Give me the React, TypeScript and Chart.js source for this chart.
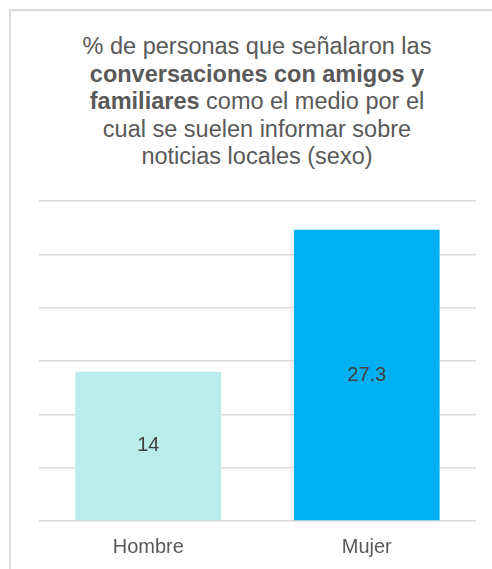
import React, { useEffect, useRef } from "react";
import { Chart, registerables } from "chart.js";

Chart.register(...registerables);

const categories: string[] = ["Hombre", "Mujer"];
const values: number[] = [14, 27.3];
const barColors: string[] = ["#B9ECEA", "#00B0F0"];
const yMin = 0;
const yMax = 30;
const yStep = 5;

const FONT = "'Liberation Sans', Arial, Helvetica, sans-serif";

const dataLabelPlugin = {
  id: "dataLabels",
  afterDatasetsDraw(chart: any) {
    const ctx = chart.ctx;
    const meta = chart.getDatasetMeta(0);
    ctx.save();
    ctx.font = `20px ${FONT}`;
    ctx.fillStyle = "#404040";
    ctx.textAlign = "center";
    ctx.textBaseline = "middle";
    meta.data.forEach((el: any, i: number) => {
      const p = el.getProps(["x", "y", "base"], true);
      ctx.fillText(String(values[i]), p.x, (p.y + p.base) / 2);
    });
    ctx.restore();
  },
};

export default function App() {
  const canvasRef = useRef<HTMLCanvasElement | null>(null);

  useEffect(() => {
    if (!canvasRef.current) return;
    Chart.defaults.font.family = FONT;
    const chart = new Chart(canvasRef.current, {
      type: "bar",
      data: {
        labels: categories,
        datasets: [
          {
            data: values,
            backgroundColor: barColors,
            borderWidth: 0,
            barPercentage: 0.667,
            categoryPercentage: 1.0,
          },
        ],
      },
      options: {
        animation: false,
        responsive: false,
        devicePixelRatio: 1,
        layout: { padding: { left: 39, right: 16, top: 201, bottom: 10 } },
        plugins: {
          legend: { display: false },
          tooltip: { enabled: false },
          title: { display: false },
        },
        scales: {
          x: {
            grid: { display: false, drawTicks: false },
            border: { display: false },
            ticks: { color: "#595959", font: { size: 20, family: FONT }, padding: 14 },
          },
          y: {
            min: yMin,
            max: yMax,
            ticks: { display: false, stepSize: yStep },
            grid: { color: "#d9d9d9", lineWidth: 1.5, drawTicks: false },
            border: { display: false },
          },
        },
      },
      plugins: [dataLabelPlugin],
    });
    return () => chart.destroy();
  }, []);

  return (
    <div
      style={{
        position: "absolute",
        left: 0,
        top: 0,
        width: 492,
        height: 569,
        overflow: "hidden",
        background: "#ffffff",
      }}
    >
      <div
        style={{
          position: "absolute",
          left: 9,
          top: 9,
          width: 600,
          height: 700,
          border: "2px solid #d9d9d9",
          boxSizing: "border-box",
        }}
      />
      <div
        style={{
          position: "absolute",
          left: 10,
          top: 33,
          width: 494,
          textAlign: "center",
          fontFamily: FONT,
          fontSize: "23.5px",
          lineHeight: "27.5px",
          color: "#595959",
        }}
      >
        % de personas que señalaron las
        <br />
        <b>conversaciones con amigos y</b>
        <br />
        <b>familiares</b> como el medio por el
        <br />
        cual se suelen informar sobre
        <br />
        noticias locales (sexo)
      </div>
      <canvas
        ref={canvasRef}
        width={492}
        height={583}
        style={{ position: "absolute", left: 0, top: 0, width: 492, height: 583 }}
      />
    </div>
  );
}
